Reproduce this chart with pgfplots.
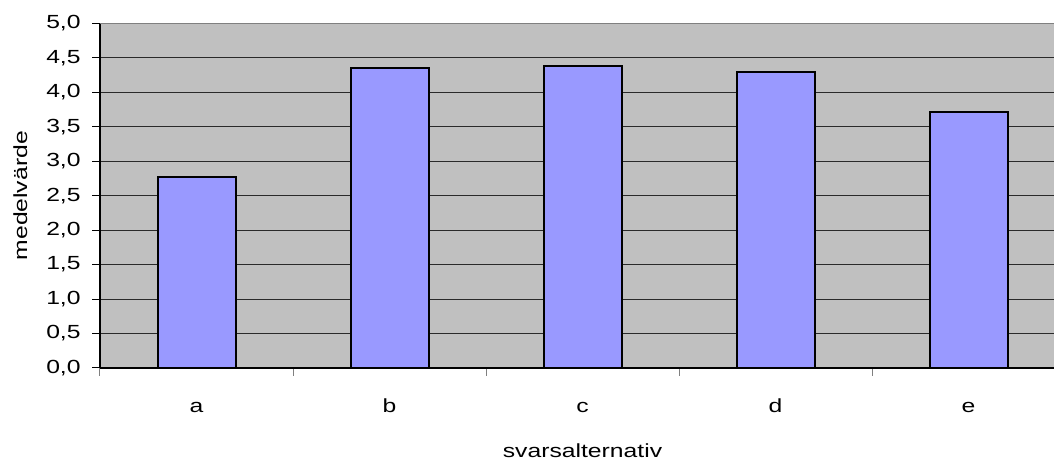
\documentclass[border=0pt]{standalone}
\usepackage{fontspec}
\setmainfont[FakeStretch=1.3]{Liberation Sans}
\usepackage{pgfplots}
\pgfplotsset{compat=1.18}
\definecolor{bgray}{HTML}{C0C0C0}
\definecolor{barblue}{HTML}{9999FF}
\definecolor{gridc}{HTML}{2A2A2A}
\begin{document}
\begin{tikzpicture}[font=\fontsize{9.5}{11}\selectfont]
\useasboundingbox (-50pt,-45.5pt) rectangle (477pt,184pt);
\begin{axis}[
  at={(0,0)}, anchor=south west,
  scale only axis, width=477pt, height=172.25pt,
  xmin=-0.5, xmax=4.443, ymin=0, ymax=5,
  axis x line=bottom, axis y line=left,
  axis line style={-, black, line width=0.7pt},
  axis background/.style={fill=bgray},
  ytick={0,0.5,...,5},
  ymajorgrids, grid style={gridc, line width=0.5pt},
  tick align=outside, major tick length=4pt,
  ytick style={black, line width=0.5pt},
  xtick={-0.5,0.5,1.5,2.5,3.5}, xticklabels={},
  xtick style={gray, line width=0.5pt},
  extra x ticks={0,1,2,3,4}, extra x tick labels={a,b,c,d,e},
  extra x tick style={major tick length=0pt, xticklabel style={anchor=base, yshift=-22.5pt}},
  /pgf/number format/assume math mode=true,
  yticklabel style={/pgf/number format/fixed, /pgf/number format/fixed zerofill, /pgf/number format/precision=1, /pgf/number format/use comma, anchor=east, inner sep=0pt, xshift=-5.5pt},
  xlabel={svarsalternativ},
  xlabel style={at={(axis cs:2,0)}, anchor=base, yshift=-45pt},
  ylabel={medelvärde},
  ylabel style={at={([xshift=-36.4pt]axis description cs:0,0.5)}, anchor=base, rotate=0},
  ybar, bar width=39pt,
]
\addplot[fill=barblue, draw=black, line width=1pt] coordinates {
  (0,2.77) (1,4.36) (2,4.38) (3,4.29) (4,3.72)
};
\draw[gray, line width=1pt] (rel axis cs:0,1) -- (rel axis cs:1,1);
\end{axis}
\end{tikzpicture}
\end{document}
